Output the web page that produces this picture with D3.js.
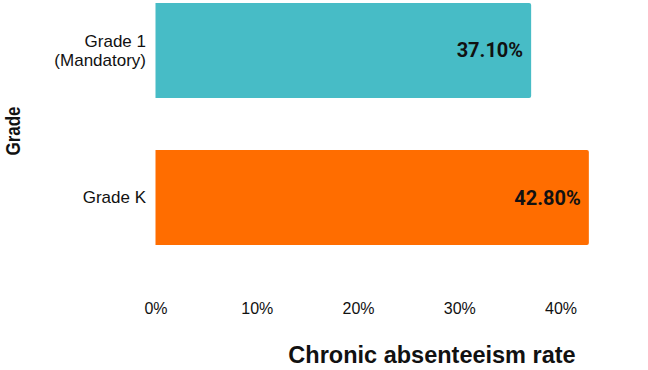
<!DOCTYPE html>
<html>
<head>
<meta charset="utf-8">
<script src="https://cdn.jsdelivr.net/npm/d3@7"></script>
<style>
  body { margin: 0; background: #fff; }
  svg { display: block; }
</style>
</head>
<body>
<div id="chart"></div>
<script>
// data
var grades = ["Grade 1 (Mandatory)", "Grade K"];
var rates = [37.1, 42.8];
var barColors = ["#47bcc6", "#ff6d00"];
var xTicks = [0, 10, 20, 30, 40];

var width = 648, height = 370;
var margin_left = 155.5, plotRight = 560.5;

var svg = d3.select("#chart").append("svg")
  .attr("width", width)
  .attr("height", height);

/* Scales */
var xScale = d3.scaleLinear()
  .domain([0, 40])
  .range([margin_left, plotRight]);

var yScale = d3.scaleBand()
  .domain(grades)
  .range([3, 245])
  .paddingInner(0.354)
  .paddingOuter(0);

/* Bars */
svg.selectAll(".bar")
  .data(grades).enter()
  .append("path")
  .attr("class", "bar")
  .attr("fill", (d, i) => barColors[i])
  .attr("d", function(d, i) {
    var x0 = xScale(0), x1 = xScale(rates[i]);
    var y0 = yScale(d), h = yScale.bandwidth(), r = 2;
    return "M" + x0 + "," + y0 +
      "H" + (x1 - r) + "Q" + x1 + "," + y0 + " " + x1 + "," + (y0 + r) +
      "V" + (y0 + h - r) + "Q" + x1 + "," + (y0 + h) + " " + (x1 - r) + "," + (y0 + h) +
      "H" + x0 + "Z";
  });

/* Value labels */
svg.selectAll(".val")
  .data(grades).enter()
  .append("text")
  .attr("class", "val")
  .attr("x", (d, i) => xScale(rates[i]) - 8)
  .attr("y", d => yScale(d) + yScale.bandwidth() / 2)
  .attr("dy", "0.35em")
  .attr("text-anchor", "end")
  .style("font-family", "Roboto, 'Liberation Sans', sans-serif")
  .style("font-weight", "bold")
  .style("font-size", "20px")
  .style("fill", "#111")
  .text((d, i) => rates[i].toFixed(2) + "%");

/* Category labels */
var catLabels = svg.selectAll(".cat")
  .data(grades).enter()
  .append("text")
  .attr("class", "cat")
  .attr("text-anchor", "end")
  .style("font-family", "'Liberation Sans', Arial, sans-serif")
  .style("font-size", "17px")
  .style("fill", "#111")
  .attr("transform", d => "translate(146," + (yScale(d) + yScale.bandwidth() / 2) + ")");

catLabels.each(function(d) {
  var parts = d.indexOf(" (") > 0 ? [d.slice(0, d.indexOf(" (")), d.slice(d.indexOf(" (") + 1)] : [d];
  var t = d3.select(this);
  parts.forEach(function(p, j) {
    t.append("tspan")
      .attr("x", 0)
      .attr("y", (j - (parts.length - 1) / 2) * 19)
      .attr("dy", "0.35em")
      .text(p);
  });
});

/* X axis */
var xAxis = d3.axisBottom(xScale)
  .tickValues(xTicks)
  .tickSize(0)
  .tickPadding(0)
  .tickFormat(d => d + "%");

var gx = svg.append("g")
  .attr("transform", "translate(0,303)")
  .call(xAxis);
gx.select(".domain").remove();
gx.selectAll("text")
  .style("font-family", "'Liberation Sans', Arial, sans-serif")
  .style("font-size", "16px")
  .style("fill", "#111");

// axis titles
svg.append("text")
  .attr("x", 432)
  .attr("y", 363)
  .attr("text-anchor", "middle")
  .style("font-family", "'Liberation Sans', Arial, sans-serif")
  .style("font-weight", "bold")
  .style("font-size", "23.5px")
  .style("fill", "#111")
  .text("Chronic absenteeism rate");

svg.append("text")
  .attr("transform", "translate(19.5,131) rotate(-90) scale(1,1.2)")
  .attr("text-anchor", "middle")
  .style("font-family", "'Liberation Sans', Arial, sans-serif")
  .style("font-weight", "bold")
  .style("font-size", "17px")
  .style("fill", "#111")
  .text("Grade");
</script>
</body>
</html>
